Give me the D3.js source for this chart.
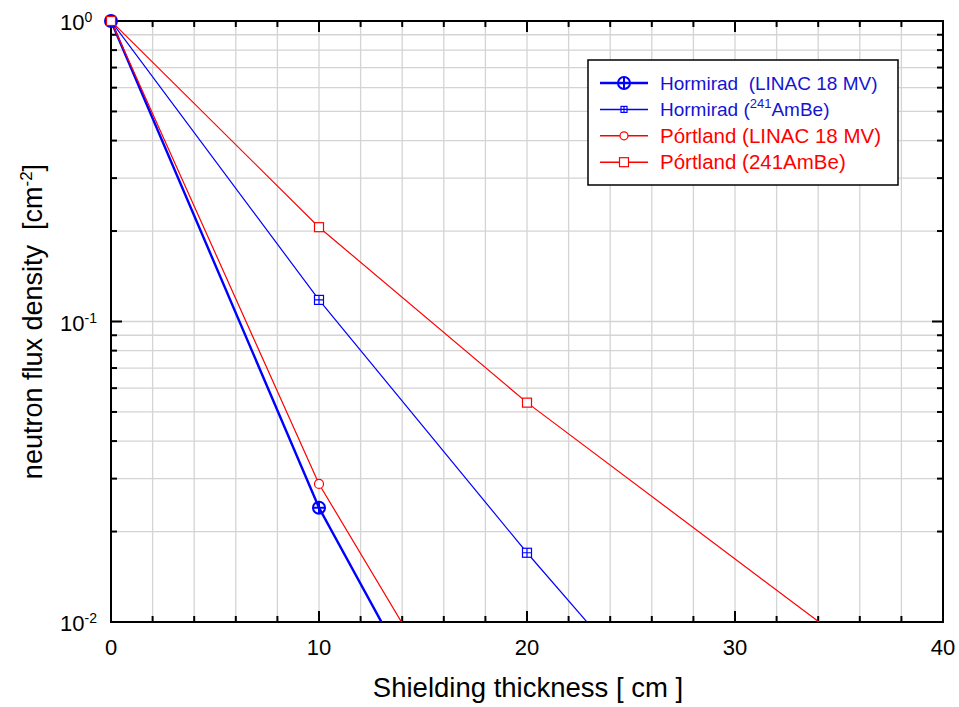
<!DOCTYPE html>
<html>
<head>
<meta charset="utf-8">
<script src="https://cdn.jsdelivr.net/npm/d3@7"></script>
<style>
  body { margin: 0; background: #fff; }
  text { font-family: Arial, "Liberation Sans", sans-serif; white-space: pre; }
</style>
</head>
<body>
<div id="chart"></div>
<script>
// data
const thickness = [0, 10, 20, 30, 40]
const hormiradLinac = [1, 0.024, 0.0013]
const hormiradAmBe = [1, 0.118, 0.0170, 0.0027]
const portlandLinac = [1, 0.0288, 0.0020]
const portlandAmBe = [1, 0.206, 0.0537, null, 0.0049]

const xTicks = [0, 10, 20, 30, 40]
const yTicks = [1, 0.1, 0.01]
const yTickExp = ["0", "-1", "-2"]

const width = 959, height = 707
const plotLeft = 111, plotRight = 943, plotTop = 21, plotBottom = 622

const blue = "#0000ff", red = "#ff0000"

const svg = d3.select("#chart").append("svg")
    .attr("width", width)
    .attr("height", height)
    .attr("viewBox", [0, 0, width, height])

const x = d3.scaleLinear().domain([0, 40]).range([plotLeft, plotRight])
const y = d3.scaleLog().domain([0.01, 1]).range([plotBottom, plotTop])

//grid
const xMinor = d3.range(2, 40, 2)
const yMinor = []
for (const dec of [0.01, 0.1]) for (let k = 2; k <= 9; k++) yMinor.push(dec * k)
yMinor.push(0.1)

const grid = svg.append("g").attr("stroke", "#d4d4d4").attr("stroke-width", 1.3)
grid.selectAll("line.vx").data(xMinor).join("line")
    .attr("class", "vx")
    .attr("x1", d => x(d)).attr("x2", d => x(d))
    .attr("y1", plotTop).attr("y2", plotBottom)
grid.selectAll("line.hy").data(yMinor).join("line")
    .attr("class", "hy")
    .attr("x1", plotLeft).attr("x2", plotRight)
    .attr("y1", d => y(d)).attr("y2", d => y(d))

//ticks on all four sides, pointing inward
const ticks = svg.append("g").attr("stroke", "#000").attr("stroke-width", 2)
const xAll = d3.range(0, 41, 2)
xAll.forEach(d => {
    const len = d % 10 === 0 ? 11 : 6
    ticks.append("line").attr("x1", x(d)).attr("x2", x(d)).attr("y1", plotBottom).attr("y2", plotBottom - len)
    ticks.append("line").attr("x1", x(d)).attr("x2", x(d)).attr("y1", plotTop).attr("y2", plotTop + len)
})
yMinor.forEach(d => {
    const len = d === 0.1 ? 11 : 6
    ticks.append("line").attr("x1", plotLeft).attr("x2", plotLeft + len).attr("y1", y(d)).attr("y2", y(d))
    ticks.append("line").attr("x1", plotRight).attr("x2", plotRight - len).attr("y1", y(d)).attr("y2", y(d))
})

//frame
svg.append("rect")
    .attr("x", plotLeft).attr("y", plotTop)
    .attr("width", plotRight - plotLeft).attr("height", plotBottom - plotTop)
    .attr("fill", "none").attr("stroke", "#000").attr("stroke-width", 2)

//tick labels
svg.selectAll("text.xt").data(xTicks).join("text")
    .attr("class", "xt")
    .attr("x", d => x(d)).attr("y", 655)
    .attr("text-anchor", "middle")
    .attr("font-size", 22)
    .text(d => d)

yTicks.forEach((d, i) => {
    const t = svg.append("text")
        .attr("x", 60).attr("y", y(d) + 9)
        .attr("font-size", 22)
    t.append("tspan").text("10")
    t.append("tspan").attr("dy", -8).attr("font-size", 14).text(yTickExp[i])
})

//axis titles
svg.append("text")
    .attr("x", 528).attr("y", 697)
    .attr("text-anchor", "middle")
    .attr("font-size", 27.5)
    .text("Shielding thickness [ cm ]")

const yt = svg.append("text")
    .attr("transform", `translate(42, ${(plotTop + plotBottom) / 2}) rotate(-90)`)
    .attr("text-anchor", "middle")
    .attr("font-size", 27)
yt.append("tspan").text("neutron flux density  [cm")
yt.append("tspan").attr("dy", -10).attr("font-size", 17).text("-2")
yt.append("tspan").attr("dy", 10).text("]")

//series
svg.append("clipPath").attr("id", "plot-clip")
    .append("rect").attr("x", plotLeft).attr("y", plotTop)
    .attr("width", plotRight - plotLeft).attr("height", plotBottom - plotTop)

const series = [
    {name: "hl", values: hormiradLinac, color: blue, width: 2.4, marker: "circlePlus"},
    {name: "ha", values: hormiradAmBe, color: blue, width: 1.2, marker: "squarePlus"},
    {name: "pl", values: portlandLinac, color: red, width: 1.2, marker: "circle"},
    {name: "pa", values: portlandAmBe, color: red, width: 1.2, marker: "square"}
]

const line = d3.line()
    .x(d => x(d[0]))
    .y(d => y(d[1]))

series.forEach(s => {
    const pts = s.values.map((v, i) => [thickness[i], v]).filter(d => d[1] != null)
    svg.append("path")
        .datum(pts)
        .attr("fill", "none")
        .attr("stroke", s.color)
        .attr("stroke-width", s.width)
        .attr("clip-path", "url(#plot-clip)")
        .attr("d", line)
})

function drawMarker(g, kind, cx, cy, color, size) {
    const h = size / 2
    if (kind === "circlePlus") {
        g.append("circle").attr("cx", cx).attr("cy", cy).attr("r", h)
            .attr("fill", "none").attr("stroke", color).attr("stroke-width", 2)
        g.append("path").attr("d", `M${cx - h},${cy}H${cx + h}M${cx},${cy - h}V${cy + h}`)
            .attr("stroke", color).attr("stroke-width", 2)
    } else if (kind === "squarePlus") {
        g.append("rect").attr("x", cx - h).attr("y", cy - h).attr("width", size).attr("height", size)
            .attr("fill", "#fff").attr("stroke", color).attr("stroke-width", 1.2)
        g.append("path").attr("d", `M${cx - h},${cy}H${cx + h}M${cx},${cy - h}V${cy + h}`)
            .attr("stroke", color).attr("stroke-width", 1.2)
    } else if (kind === "circle") {
        g.append("circle").attr("cx", cx).attr("cy", cy).attr("r", h)
            .attr("fill", "#fff").attr("stroke", color).attr("stroke-width", 1.2)
    } else {
        g.append("rect").attr("x", cx - h).attr("y", cy - h).attr("width", size).attr("height", size)
            .attr("fill", "#fff").attr("stroke", color).attr("stroke-width", 1.2)
    }
}
const markerSize = {circlePlus: 12, squarePlus: 9, circle: 9, square: 9}
const legendMarkerSize = {circlePlus: 12, squarePlus: 6, circle: 8, square: 9}

const markers = svg.append("g")
series.forEach(s => {
    s.values.forEach((v, i) => {
        if (v == null || v < 0.01) return
        drawMarker(markers, s.marker, x(thickness[i]), y(v), s.color, markerSize[s.marker])
    })
})

//legend
const legend = svg.append("g")
legend.append("rect")
    .attr("x", 588).attr("y", 60).attr("width", 310).attr("height", 125)
    .attr("fill", "#fff").attr("stroke", "#000").attr("stroke-width", 1.5)

const legendRows = [
    {s: series[0], text: ["Hormirad  (LINAC 18 MV)"], color: "#1414d2", fs: 19},
    {s: series[1], text: ["Hormirad (", "241", "AmBe)"], color: "#1414d2", fs: 19},
    {s: series[2], text: ["Pórtland (LINAC 18 MV)"], color: red, fs: 20.5},
    {s: series[3], text: ["Pórtland (241AmBe)"], color: red, fs: 20.5}
]
legendRows.forEach((r, i) => {
    const ly = 83 + i * 26.4
    legend.append("line")
        .attr("x1", 600).attr("x2", 648).attr("y1", ly).attr("y2", ly)
        .attr("stroke", r.s.color).attr("stroke-width", r.s.width + 0.3)
    drawMarker(legend, r.s.marker, 624, ly, r.s.color, legendMarkerSize[r.s.marker])
    const t = legend.append("text")
        .attr("x", 660).attr("y", ly + 7)
        .attr("font-size", r.fs)
        .attr("fill", r.color)
    if (r.text.length === 1) {
        t.text(r.text[0])
    } else {
        t.append("tspan").text(r.text[0])
        t.append("tspan").attr("dy", -8).attr("font-size", 13).text(r.text[1])
        t.append("tspan").attr("dy", 8).text(r.text[2])
    }
})
</script>
</body>
</html>
